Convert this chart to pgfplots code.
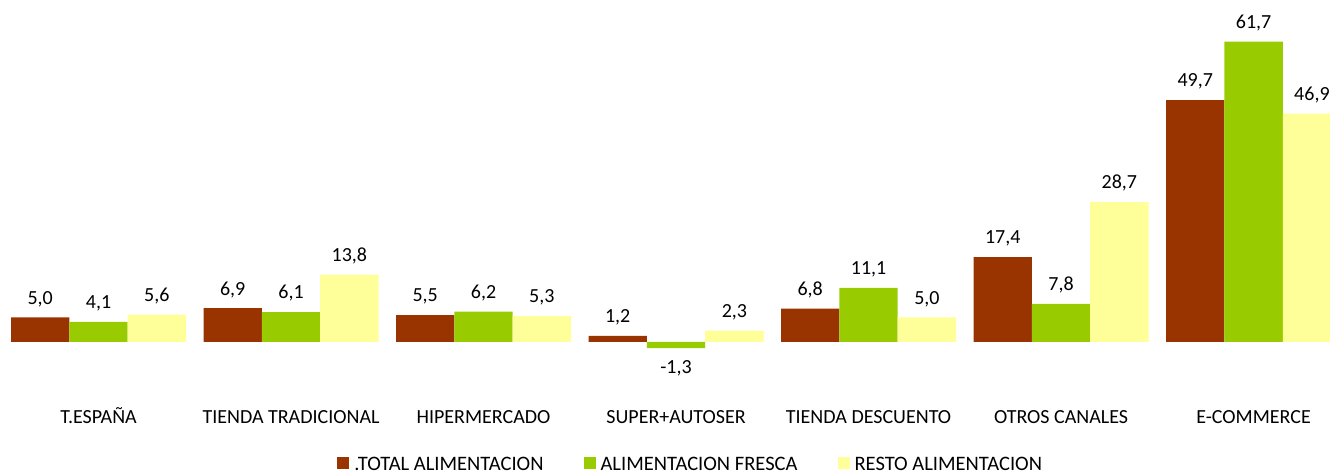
\documentclass[border=0pt]{standalone}
\usepackage{fontspec}
\setmainfont{Carlito}
\usepackage{pgfplots}
\pgfplotsset{compat=1.18}
\definecolor{cTotal}{HTML}{993300}
\definecolor{cFresca}{HTML}{99CC00}
\definecolor{cResto}{HTML}{FFFF99}
\begin{document}
\begin{tikzpicture}[font=\fontsize{15}{18}\selectfont]
\useasboundingbox (0,0) rectangle (997.5pt,356.25pt);
\begin{axis}[
  at={(0,0)}, anchor=south west,
  scale only axis, width=997.5pt, height=356.25pt,
  xmin=-0.5117, xmax=6.397, ymin=-27.38, ymax=70.26,
  axis line style={draw=none},
  ytick=\empty,
  xtick={0,1,2,3,4,5,6},
  xticklabels={T.ESPAÑA,TIENDA TRADICIONAL,HIPERMERCADO,SUPER+AUTOSER,TIENDA DESCUENTO,OTROS CANALES,E-COMMERCE},
  major tick length=0pt,
  xticklabel style={anchor=base, yshift=38.8pt, inner sep=0pt},
  ybar, bar shift=0pt, bar width=0.303,
  nodes near coords, nodes near coords align=vertical,
  every node near coord/.append style={text height=9.5pt, text depth=0pt, inner ysep=9.7pt, black},
  legend columns=3,
  legend cell align=left,
  legend style={at={(0.2536,0)}, anchor=south west, yshift=0.8pt, draw=none, fill=none, inner sep=0pt, outer sep=0pt,
    font=\fontsize{15.4}{18}\selectfont,
    nodes={inner sep=1pt},
    /tikz/every odd column/.append style={column sep=2.75pt},
    /tikz/every even column/.append style={column sep=29pt}},
  legend image code/.code={\fill[#1] (0pt,-3pt) rectangle (9pt,6pt);},
  /pgf/number format/fixed,
  /pgf/number format/fixed zerofill,
  /pgf/number format/precision=1,
  /pgf/number format/use comma,
  /pgf/number format/assume math mode=true,
]
\addplot[fill=cTotal, draw=none] coordinates {(-0.303,5.0) (0.697,6.9) (1.697,5.5) (2.697,1.2) (3.697,6.8) (4.697,17.4) (5.697,49.7)};
\addplot[fill=cFresca, draw=none] coordinates {(0,4.1) (1,6.1) (2,6.2) (3,-1.3) (4,11.1) (5,7.8) (6,61.7)};
\addplot[fill=cResto, draw=none] coordinates {(0.303,5.6) (1.303,13.8) (2.303,5.3) (3.303,2.3) (4.303,5.0) (5.303,28.7) (6.303,46.9)};
\legend{.TOTAL ALIMENTACION,ALIMENTACION FRESCA,RESTO ALIMENTACION}
\end{axis}
\end{tikzpicture}
\end{document}
